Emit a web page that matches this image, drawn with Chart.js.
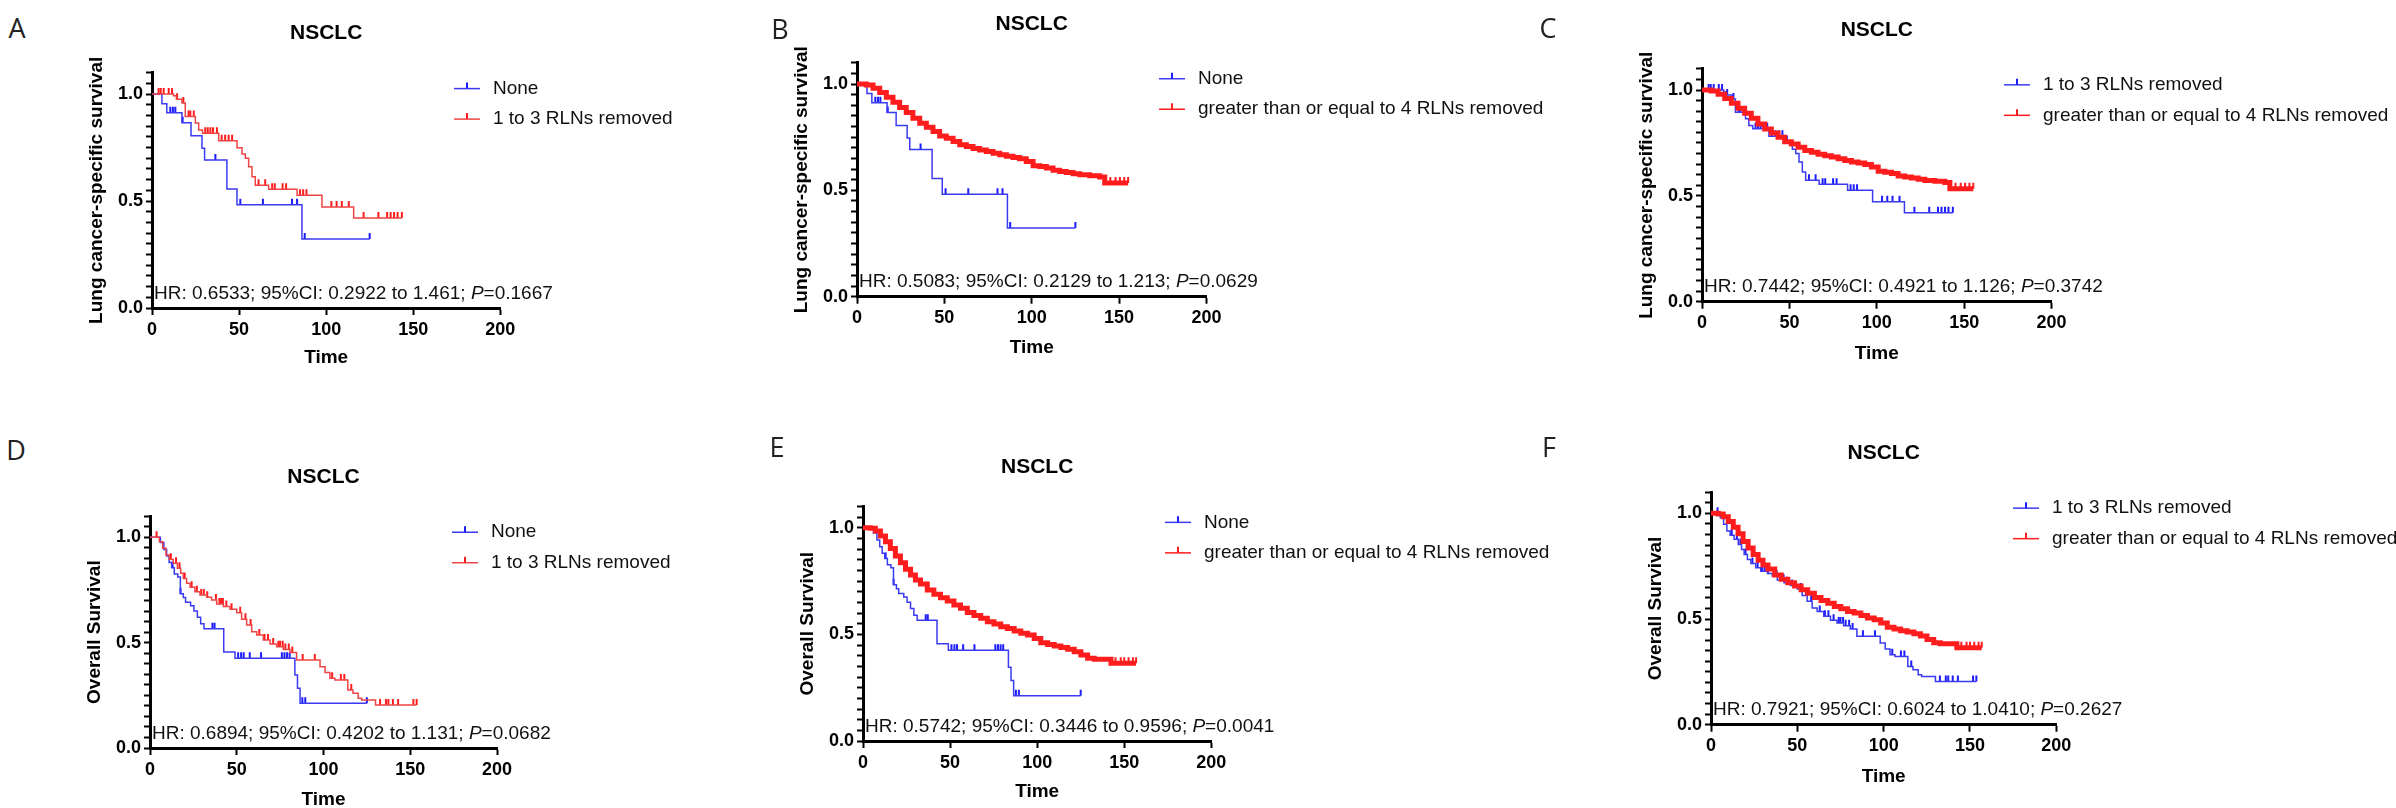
<!DOCTYPE html>
<html>
<head>
<meta charset="utf-8">
<script src="https://cdn.jsdelivr.net/npm/chart.js@4.4.1/dist/chart.umd.min.js"></script>
<style>
html, body { margin:0; padding:0; background:#fff; }
#fig { position:relative; width:2396px; height:808px; overflow:hidden; background:#fff; }
#fig canvas { position:absolute; }
.tag { position:absolute; font-family:"Open Sans","Noto Sans",sans-serif; font-size:27px; color:#222; line-height:1; transform:translate(-50%,-50%); }
</style>
</head>
<body>
<div id="fig"></div>
<script>
// Kaplan-Meier curves: step times (months) and survival after each step,
// plus censoring times (tick marks)

// lung cancer-specific survival
const noneLcssT = [0, 5.7, 8.5, 17.2, 22.4, 28.7, 30.2, 43, 48.8, 86.1];
const noneLcssS = [1, 0.955, 0.912, 0.866, 0.805, 0.746, 0.692, 0.556, 0.482, 0.323];
const noneLcssCens = [10.5, 12, 13.4, 17.6, 36.4, 50.7, 63.7, 80.4, 83.3, 87.7, 125];

const one3LcssT = [0, 12.4, 14, 17.2, 19.1, 24.9, 26.8, 29, 38.3, 48.8, 51.7, 53.6, 55.5, 57.4, 59.3, 67, 83.3, 97.6, 115.8];
const one3LcssS = [1, 0.992, 0.976, 0.958, 0.895, 0.864, 0.832, 0.817, 0.782, 0.749, 0.72, 0.70, 0.66, 0.613, 0.574, 0.555, 0.527, 0.472, 0.42];
const one3LcssCens = [3.8, 5, 6.7, 9.6, 11.5, 14.4, 18, 21, 22, 24, 30.6, 32, 33.5, 35, 37.3, 40, 42, 44, 46,
  61.2, 65, 69, 70.5, 75, 77, 85, 86.8, 88.7, 103, 106, 109, 113, 121.5, 130, 135, 137, 139, 141, 143.5];

const ge4LcssT = [0, 5.3, 9.2, 13, 16.8, 20.6, 24.4, 28.2, 32, 35.9, 39.7, 43.5, 47.3, 51.1, 55, 58.8, 62.6, 66.4, 70.2, 74,
  77.9, 81.7, 85.5, 89.3, 93.1, 96.9, 100.8, 104.6, 108.4, 112.2, 116, 119.8, 123.7, 127.5, 133.2, 138.9, 141.8];
const ge4LcssS = [1, 0.995, 0.98, 0.96, 0.938, 0.914, 0.89, 0.866, 0.839, 0.816, 0.797, 0.777, 0.756, 0.745, 0.73, 0.714, 0.706, 0.697, 0.69, 0.683,
  0.675, 0.667, 0.66, 0.655, 0.648, 0.636, 0.616, 0.612, 0.605, 0.594, 0.589, 0.584, 0.578, 0.573, 0.569, 0.5625, 0.534];
const ge4LcssCens = [145, 148, 150.5, 153, 155.2];

// overall survival
const noneOsT = [0, 6, 8, 9.6, 11, 12.5, 14, 16, 17.5, 19.2, 20.5, 23.4, 25.3, 27.3, 29.2, 31.1, 42.5, 49, 83.5, 85, 86.5];
const noneOsS = [1, 0.975, 0.942, 0.911, 0.88, 0.856, 0.826, 0.812, 0.732, 0.714, 0.692, 0.675, 0.65, 0.621, 0.59, 0.566, 0.456, 0.426, 0.346, 0.284, 0.212];
const noneOsCens = [13, 17.6, 36, 37.2, 50.8, 52.5, 54, 57.5, 64, 76, 77.5, 79, 80.5, 87.8, 89.5, 125];

const one3OsT = [0, 5.4, 7.3, 9.2, 11.1, 13.4, 15.8, 17.7, 19.2, 21.1, 23.1, 25.9, 28.8, 32.7, 35.5, 38.4, 42.3, 46.1, 50, 52.8,
  55.7, 58.6, 61.5, 65.3, 69.2, 73, 76.8, 80.7, 84.5, 98, 100.9, 103.7, 106.6, 114, 117, 120, 122, 130];
const one3OsS = [1, 0.979, 0.948, 0.916, 0.896, 0.877, 0.853, 0.829, 0.805, 0.782, 0.763, 0.742, 0.726, 0.715, 0.703, 0.684, 0.671, 0.658, 0.642, 0.611,
  0.584, 0.552, 0.536, 0.513, 0.494, 0.481, 0.468, 0.453, 0.418, 0.386, 0.358, 0.331, 0.323, 0.275, 0.26, 0.236, 0.228, 0.204];
const one3OsCens = [3.8, 12, 15, 17, 20, 24, 27, 29.5, 31, 33, 38, 40, 41, 42, 44, 47, 52, 55, 58, 63, 66, 68, 71, 74, 75, 76.5,
  78, 80, 82, 88, 95, 105, 110, 112, 116, 132.6, 136, 137.4, 140, 143, 151.8, 153.7];

const ge4OsT = [0, 4.2, 7.1, 10, 12.9, 15.7, 18.6, 21.5, 24.4, 27.3, 30.1, 33, 36.9, 40.7, 44.5, 48.4, 52.2, 56, 59.9, 63.7,
  67.6, 71.4, 75.2, 79.1, 82.9, 86.8, 90.6, 94.5, 98.3, 102.1, 106, 109.8, 113.6, 117.5, 121.3, 125.1, 129, 132.8, 142.4];
const ge4OsS = [1, 0.997, 0.984, 0.961, 0.934, 0.903, 0.867, 0.836, 0.805, 0.778, 0.755, 0.736, 0.708, 0.688, 0.672, 0.656, 0.638, 0.622, 0.602, 0.588,
  0.575, 0.559, 0.548, 0.536, 0.528, 0.516, 0.505, 0.497, 0.481, 0.461, 0.453, 0.445, 0.438, 0.43, 0.419, 0.403, 0.388, 0.383, 0.364];
const ge4OsCens = [145, 148, 150, 152.5, 155, 156.8];

// panel texts
const panelLetters = ['A', 'B', 'C', 'D', 'E', 'F'];
const groupNone = 'None';
const groupOne3 = '1 to 3 RLNs removed';
const groupGe4 = 'greater than or equal to 4 RLNs removed';
const hrValues = ['0.6533', '0.5083', '0.7442', '0.6894', '0.5742', '0.7921'];
const ciLow = ['0.2922', '0.2129', '0.4921', '0.4202', '0.3446', '0.6024'];
const ciHigh = ['1.461', '1.213', '1.126', '1.131', '0.9596', '1.0410'];
const pValues = ['0.1667', '0.0629', '0.3742', '0.0682', '0.0041', '0.2627'];
const xTickStep = 50;
const yLabelled = [0, 0.5, 1.0];

const FONT = '"Liberation Sans", Arial, sans-serif';
const BLUE = '#3a3af0', BLUE_TICK = '#1c1cff';
const RED = '#ee4444', RED_TICK = '#ff1c1c';

const curves = {
  noneLcss: {T: noneLcssT, S: noneLcssS, c: noneLcssCens, dense: false},
  one3Lcss: {T: one3LcssT, S: one3LcssS, c: one3LcssCens, dense: false},
  ge4Lcss: {T: ge4LcssT, S: ge4LcssS, c: ge4LcssCens, dense: true},
  noneOs: {T: noneOsT, S: noneOsS, c: noneOsCens, dense: false},
  one3Os: {T: one3OsT, S: one3OsS, c: one3OsCens, dense: false},
  ge4Os: {T: ge4OsT, S: ge4OsS, c: ge4OsCens, dense: true}
};

// layout of each panel (page pixels)
const panels = [
  {blue: 'noneLcss', red: 'one3Lcss', bl: groupNone, rl: groupOne3, ylab: 'Lung cancer-specific survival',
   x0: 151.7, x200: 500, y1: 94, y0: 308, top: 0, h: 400, timeY: 357.5, tag: [17, 27]},
  {blue: 'noneLcss', red: 'ge4Lcss', bl: groupNone, rl: groupGe4, ylab: 'Lung cancer-specific survival',
   x0: 857.3, x200: 1206.7, y1: 84, y0: 296.7, top: 0, h: 400, timeY: 348, tag: [780, 28]},
  {blue: 'one3Lcss', red: 'ge4Lcss', bl: groupOne3, rl: groupGe4, ylab: 'Lung cancer-specific survival',
   x0: 1701.7, x200: 2051.3, y1: 90, y0: 301.7, top: 0, h: 400, timeY: 354, tag: [1548, 27]},
  {blue: 'noneOs', red: 'one3Os', bl: groupNone, rl: groupOne3, ylab: 'Overall Survival',
   x0: 150, x200: 497, y1: 537.3, y0: 748, top: 400, h: 420, timeY: 800, tag: [16, 449]},
  {blue: 'noneOs', red: 'ge4Os', bl: groupNone, rl: groupGe4, ylab: 'Overall Survival',
   x0: 862.7, x200: 1211, y1: 527.7, y0: 741, top: 400, h: 420, timeY: 791.7, tag: [777, 446]},
  {blue: 'one3Os', red: 'ge4Os', bl: groupOne3, rl: groupGe4, ylab: 'Overall Survival',
   x0: 1710.7, x200: 2056, y1: 513.3, y0: 724.7, top: 400, h: 420, timeY: 776.7, tag: [1549, 446]}
];

function stepPts(cv) {
  const pts = cv.T.map((t, i) => ({x: t, y: cv.S[i]}));
  const end = Math.max(...cv.c);
  if (end > cv.T[cv.T.length - 1]) pts.push({x: end, y: cv.S[cv.S.length - 1]});
  return pts;
}
function survAt(cv, t) {
  let s = cv.S[0];
  cv.T.forEach((ti, i) => { if (ti <= t) s = cv.S[i]; });
  return s;
}
function censPts(cv) {
  return cv.c.map(t => ({x: t, y: survAt(cv, t)}));
}

// title, legend and HR text drawn on the chart
const kmDeco = {
  id: 'kmDeco',
  afterDraw(chart, args, o) {
    const {ctx, chartArea: a} = chart;
    ctx.save();
    ctx.fillStyle = '#000';
    ctx.font = 'bold 21px ' + FONT;
    ctx.textAlign = 'center';
    ctx.textBaseline = 'middle';
    ctx.fillText(o.title, (a.left + a.right) / 2, a.top - 39);

    ctx.font = '19px ' + FONT;
    ctx.textAlign = 'left';
    o.legend.forEach((it, k) => {
      const lx = a.left + 302, ly = a.top + 16 + k * 30.5;
      ctx.strokeStyle = it.line;
      ctx.lineWidth = 1.5;
      ctx.beginPath(); ctx.moveTo(lx, ly); ctx.lineTo(lx + 26, ly); ctx.stroke();
      ctx.strokeStyle = it.tick;
      ctx.lineWidth = 2;
      ctx.beginPath(); ctx.moveTo(lx + 13, ly); ctx.lineTo(lx + 13, ly - 6); ctx.stroke();
      ctx.fillStyle = '#111';
      ctx.fillText(it.text, lx + 39, ly);
    });

    let hx = a.left + 2;
    const hy = a.bottom - 14.5;
    ctx.fillStyle = '#111';
    o.hr.forEach(part => {
      ctx.font = (part.it ? 'italic ' : '') + '19px ' + FONT;
      ctx.fillText(part.s, hx, hy);
      hx += ctx.measureText(part.s).width;
    });
    ctx.restore();
  }
};

const fig = document.getElementById('fig');

panels.forEach((p, i) => {
  const tag = document.createElement('div');
  tag.className = 'tag';
  tag.textContent = panelLetters[i];
  tag.style.left = p.tag[0] + 'px';
  tag.style.top = p.tag[1] + 'px';
  fig.appendChild(tag);

  const W = 820;
  const cl = p.x0 - 120;
  const ytop = p.y1 - 0.1 * (p.y0 - p.y1);
  const cv = document.createElement('canvas');
  cv.width = W; cv.height = p.h;
  cv.style.left = cl + 'px';
  cv.style.top = p.top + 'px';
  cv.style.width = W + 'px';
  cv.style.height = p.h + 'px';
  fig.appendChild(cv);

  const b = curves[p.blue], r = curves[p.red];
  const tickFont = {family: FONT, size: 18, weight: 'bold'};
  const titleFont = {family: FONT, size: 19, weight: 'bold'};
  const xh = p.top + p.h - p.y0;

  new Chart(cv.getContext('2d'), {
    type: 'line',
    data: {
      datasets: [
        {label: p.rl, data: stepPts(r), stepped: 'before', borderColor: r.dense ? RED_TICK : RED,
         borderWidth: r.dense ? 5 : 1.5, pointRadius: 0, fill: false},
        {label: 'red censored', data: censPts(r), showLine: false, pointStyle: 'dash', pointRotation: -90,
         pointRadius: 6, pointBorderWidth: 2, pointBorderColor: RED_TICK, pointBackgroundColor: RED_TICK},
        {label: p.bl, data: stepPts(b), stepped: 'before', borderColor: b.dense ? RED_TICK : BLUE,
         borderWidth: b.dense ? 5 : 1.5, pointRadius: 0, fill: false},
        {label: 'blue censored', data: censPts(b), showLine: false, pointStyle: 'dash', pointRotation: -90,
         pointRadius: 6, pointBorderWidth: 2, pointBorderColor: BLUE_TICK, pointBackgroundColor: BLUE_TICK}
      ]
    },
    options: {
      responsive: false,
      animation: false,
      devicePixelRatio: 1,
      layout: {padding: {left: 0, top: ytop - p.top, right: cl + W - p.x200, bottom: 0}},
      plugins: {
        legend: {display: false},
        tooltip: {enabled: false},
        kmDeco: {
          title: 'NSCLC',
          legend: [
            {text: p.bl, line: BLUE, tick: BLUE_TICK},
            {text: p.rl, line: r.dense ? RED_TICK : RED, tick: RED_TICK}
          ],
          hr: [
            {s: 'HR: ' + hrValues[i] + '; 95%CI: ' + ciLow[i] + ' to ' + ciHigh[i] + '; '},
            {s: 'P', it: true},
            {s: '=' + pValues[i]}
          ]
        }
      },
      scales: {
        x: {
          type: 'linear', min: 0, max: 200,
          ticks: {stepSize: xTickStep, color: '#000', font: tickFont, padding: 4, maxRotation: 0},
          grid: {drawOnChartArea: false, drawTicks: true, tickLength: 7, tickWidth: 2, tickColor: '#000'},
          border: {display: true, color: '#000', width: 3},
          title: {display: true, text: 'Time', color: '#000', font: titleFont,
                  padding: {top: 0, bottom: p.top + p.h - p.timeY - 11.4}},
          afterFit(s) { s.height = xh; }
        },
        y: {
          type: 'linear', min: 0, max: 1.1,
          ticks: {stepSize: 0.05, autoSkip: false, color: '#000', font: tickFont, padding: 3,
                  callback: v => yLabelled.some(l => Math.abs(l - v) < 1e-6) ? v.toFixed(1) : ''},
          grid: {drawOnChartArea: false, drawTicks: true, tickLength: 6, tickWidth: 2, tickColor: '#000'},
          border: {display: true, color: '#000', width: 3},
          title: {display: true, text: p.ylab, color: '#000', font: titleFont, padding: {top: 65 - 11.4, bottom: 0}},
          afterFit(s) { s.width = 120; }
        }
      }
    },
    plugins: [kmDeco]
  });
});
</script>
</body>
</html>
